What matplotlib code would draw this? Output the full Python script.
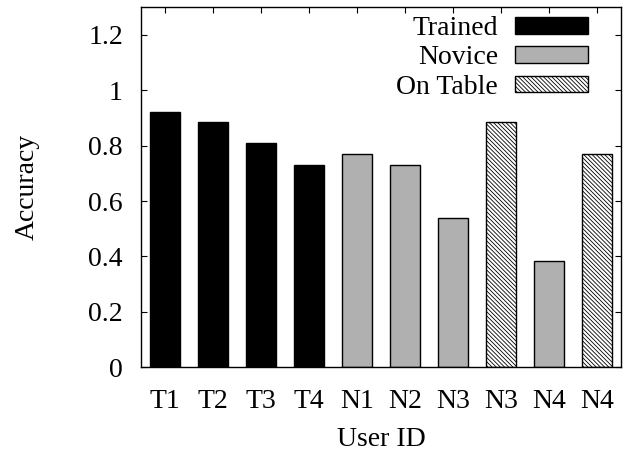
import matplotlib
matplotlib.use("Agg")
import matplotlib.pyplot as plt
from matplotlib.patches import Patch

users = ["T1", "T2", "T3", "T4", "N1", "N2", "N3", "N3", "N4", "N4"]
groups = ["Trained", "Trained", "Trained", "Trained", "Novice", "Novice",
          "Novice", "On Table", "Novice", "On Table"]
accuracy = [0.923, 0.885, 0.808, 0.731, 0.769, 0.731, 0.538, 0.885, 0.385, 0.769]
yticks = [0, 0.2, 0.4, 0.6, 0.8, 1.0, 1.2]
ytick_labels = ["0", "0.2", "0.4", "0.6", "0.8", "1", "1.2"]

styles = {
    "Trained": dict(facecolor="black", edgecolor="black", hatch=None),
    "Novice": dict(facecolor="#b0b0b0", edgecolor="black", hatch=None),
    "On Table": dict(facecolor="white", edgecolor="black", hatch="\\\\\\\\\\\\\\\\"),
}

plt.rcParams["font.family"] = ["Liberation Serif", "DejaVu Serif"]
plt.rcParams["font.size"] = 20
plt.rcParams["hatch.linewidth"] = 0.6
plt.rcParams["hatch.color"] = "#6a6a6a"

fig = plt.figure(figsize=(6.24, 4.51), dpi=100)
ax = fig.add_axes([0.226, 0.186, 0.769, 0.798])

x = range(len(users))
for i, (g, v) in enumerate(zip(groups, accuracy)):
    s = styles[g]
    ax.bar(i, v, width=0.61, facecolor=s["facecolor"], edgecolor=s["edgecolor"],
           hatch=s["hatch"], linewidth=1.0, zorder=2)

ax.set_xlim(-0.5, len(users) - 0.5)
ax.set_ylim(0, 1.3)
ax.set_xticks(list(x))
ax.set_xticklabels(users)
ax.set_yticks(yticks)
ax.set_yticklabels(ytick_labels)
ax.tick_params(direction="in", length=4, width=0.8, top=True, right=True,
               bottom=False)
ax.tick_params(axis="y", pad=13)
ax.tick_params(axis="x", pad=16)
for sp in ax.spines.values():
    sp.set_linewidth(1.0)

ax.set_ylabel("Accuracy", labelpad=35)
ax.set_xlabel("User ID", labelpad=9)

handles = [Patch(facecolor=styles[k]["facecolor"], edgecolor="black",
                 hatch=styles[k]["hatch"], linewidth=1.0, label=k)
           for k in ["Trained", "Novice", "On Table"]]
ax.legend(handles=handles, loc="upper right", frameon=False, markerfirst=False,
          handlelength=2.65, handleheight=0.55, handletextpad=0.6,
          labelspacing=0.16, borderaxespad=0.2, bbox_to_anchor=(0.967, 1.022))

fig.savefig("out.png", dpi=100)
